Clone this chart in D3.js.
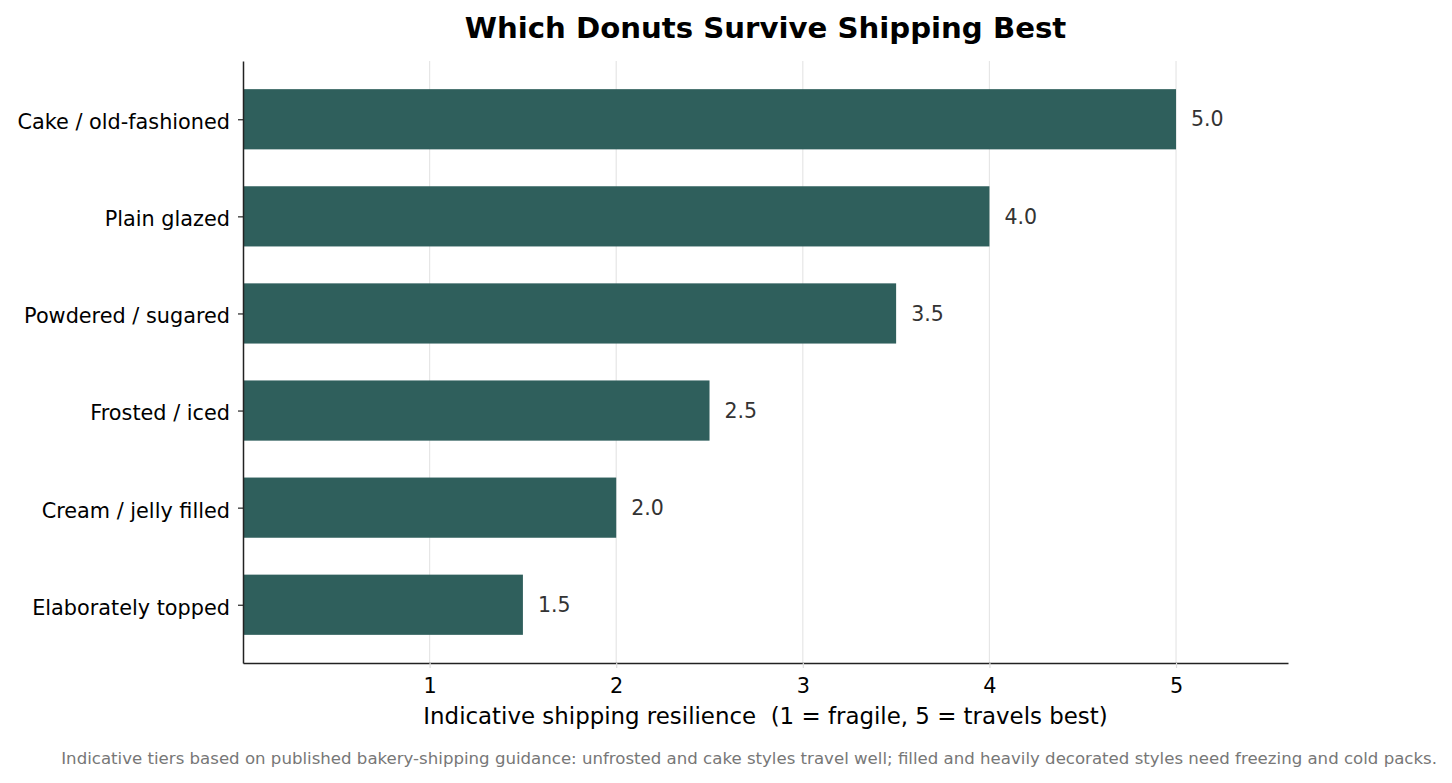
<!DOCTYPE html>
<html lang="en">
  <head>
    <meta charset="UTF-8" />
    <title>Which Donuts Survive Shipping Best</title>
    <script src="https://d3js.org/d3.v7.min.js"></script>
    <style>
      body { margin: 0; background: #fff; }
      text { font-family: "DejaVu Sans", sans-serif; }
    </style>
  </head>
  <body>
    <svg id="visualization" width="1452" height="783"></svg>

    <script>
      // Chart data
      const categories = [
        "Cake / old-fashioned",
        "Plain glazed",
        "Powdered / sugared",
        "Frosted / iced",
        "Cream / jelly filled",
        "Elaborately topped"
      ];
      const values = [5.0, 4.0, 3.5, 2.5, 2.0, 1.5];
      const xTicks = [1, 2, 3, 4, 5];

      const svg = d3.select("#visualization");
      const margin = { top: 61, right: 164, bottom: 120, left: 243 };
      const width = 1452 - margin.left - margin.right;
      const height = 783 - margin.top - margin.bottom;

      const g = svg.append("g").attr("transform", `translate(${margin.left},${margin.top})`);

      const x = d3.scaleLinear().domain([0, 5.6]).range([0, width]);
      // category index scale, with matplotlib-like padding
      const y = d3.scaleLinear().domain([-0.6, categories.length - 1 + 0.6]).range([0, height]);
      const barH = y(0.31) - y(-0.31);

      // Grid lines
      g.append("g")
        .selectAll("line")
        .data(xTicks)
        .enter()
        .append("line")
        .attr("x1", (d) => x(d))
        .attr("x2", (d) => x(d))
        .attr("y1", 0)
        .attr("y2", height)
        .attr("stroke", "#e6e6e6")
        .attr("stroke-width", 1.2);

      // Bars
      g.selectAll(".bar")
        .data(values)
        .enter()
        .append("rect")
        .attr("class", "bar")
        .attr("x", x(0))
        .attr("y", (d, i) => y(i) - barH / 2)
        .attr("width", (d) => x(d) - x(0))
        .attr("height", barH)
        .attr("fill", "#2f5f5c");

      // Value labels
      g.selectAll(".val")
        .data(values)
        .enter()
        .append("text")
        .attr("class", "val")
        .attr("x", (d) => x(d) + 15)
        .attr("y", (d, i) => y(i))
        .attr("dy", "0.35em")
        .attr("font-size", 20.5)
        .attr("fill", "#333")
        .text((d) => d.toFixed(1));

      // X axis
      const xAxis = g.append("g")
        .attr("transform", `translate(0,${height})`)
        .call(d3.axisBottom(x).tickValues(xTicks).tickSize(5).tickSizeOuter(0).tickPadding(10).tickFormat(d3.format("d")));
      xAxis.select(".domain").attr("stroke", "#222").attr("stroke-width", 1.5);
      xAxis.selectAll(".tick line").attr("stroke", "#dddddd").attr("stroke-width", 1.2);
      xAxis.selectAll(".tick text").attr("font-size", 20.8).attr("fill", "#000").attr("font-family", "DejaVu Sans");

      // Y axis
      const yAxis = g.append("g")
        .call(d3.axisLeft(y).tickValues(d3.range(categories.length)).tickSize(5).tickSizeOuter(0).tickPadding(8)
          .tickFormat((d) => categories[d]));
      yAxis.select(".domain").attr("stroke", "#222").attr("stroke-width", 1.5);
      yAxis.selectAll(".tick line").attr("stroke", "#222").attr("stroke-width", 1.2);
      yAxis.selectAll(".tick text").attr("font-size", 20.8).attr("fill", "#000").attr("font-family", "DejaVu Sans")
        .attr("dy", "0.45em");

      // X axis label
      svg.append("text")
        .attr("x", margin.left + x(2.8))
        .attr("y", 724)
        .attr("text-anchor", "middle")
        .attr("font-size", 22.9)
        .style("white-space", "pre")
        .text("Indicative shipping resilience  (1 = fragile, 5 = travels best)");

      // Title
      svg.append("text")
        .attr("x", margin.left + width / 2)
        .attr("y", 38)
        .attr("text-anchor", "middle")
        .attr("font-size", 29.2)
        .attr("font-weight", "bold")
        .text("Which Donuts Survive Shipping Best");

      // Footnote
      svg.append("text")
        .attr("x", 1437)
        .attr("y", 764)
        .attr("text-anchor", "end")
        .attr("font-size", 16.6)
        .attr("fill", "#777")
        .text("Indicative tiers based on published bakery-shipping guidance: unfrosted and cake styles travel well; filled and heavily decorated styles need freezing and cold packs.");
    </script>
  </body>
</html>
